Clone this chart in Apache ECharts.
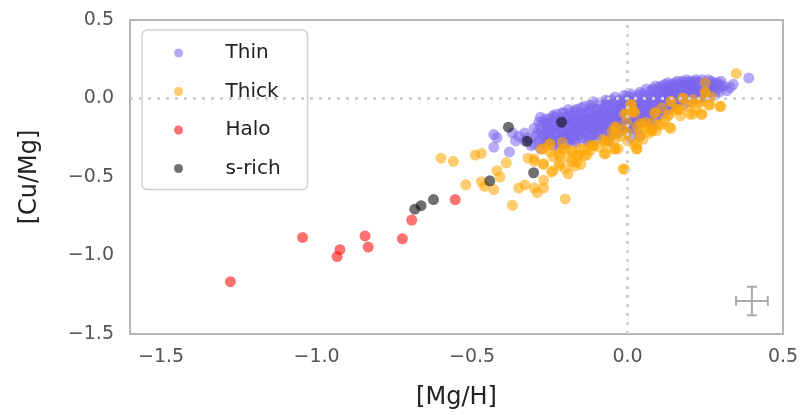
<!DOCTYPE html>
<html><head><meta charset="utf-8">
<script src="https://cdn.jsdelivr.net/npm/echarts@6/dist/echarts.min.js"></script>
<style>html,body{margin:0;padding:0;background:#fff}#c{width:803px;height:415px}</style>
</head><body><div id="c"></div>
<script>
const xTicks = [-1.5, -1.0, -0.5, 0.0, 0.5];
const yTicks = [-1.5, -1.0, -0.5, 0.0, 0.5];
const seriesNames = ['Thin', 'Thick', 'Halo', 's-rich'];

const thin = [
[-0.43,-0.23],[-0.42,-0.25],[-0.43,-0.31],[-0.38,-0.34],[-0.37,-0.22],[-0.35,-0.24],[-0.36,-0.27],[-0.33,-0.27],[-0.33,-0.22],[-0.32,-0.25],
[-0.30,-0.19],[-0.30,-0.29],[-0.28,-0.32],[-0.31,-0.30],[-0.29,-0.22],[-0.28,-0.18],[-0.27,-0.24],[-0.27,-0.28],[-0.26,-0.21],[-0.25,-0.13],
[-0.25,-0.26],[-0.24,-0.18],[-0.24,-0.30],[-0.23,-0.10],[-0.23,-0.22],[-0.22,-0.15],[-0.22,-0.27],[-0.21,-0.19],[-0.21,-0.24],[-0.20,-0.12],
[-0.20,-0.29],[-0.19,-0.17],[-0.19,-0.22],[-0.18,-0.09],[-0.18,-0.26],[-0.17,-0.14],[-0.17,-0.20],[-0.16,-0.11],[-0.16,-0.24],[-0.15,-0.17],
[-0.15,-0.06],[-0.14,-0.21],[-0.14,-0.13],[-0.13,-0.27],[-0.13,-0.09],[-0.12,-0.18],[-0.12,-0.04],[-0.11,-0.23],[-0.11,-0.12],[-0.10,-0.15],
[-0.10,-0.07],[-0.09,-0.19],[-0.09,-0.10],[-0.08,-0.13],[-0.08,-0.24],[-0.07,-0.04],[-0.07,-0.16],[-0.06,-0.09],[-0.06,-0.21],[-0.05,-0.12],
[-0.05,-0.01],[-0.04,-0.17],[-0.04,-0.06],[-0.03,-0.10],[-0.03,-0.22],[-0.02,-0.03],[-0.02,-0.14],[-0.01,-0.08],[-0.01,-0.18],[0.00,-0.11],
[0.00,0.02],[0.01,-0.05],[0.01,-0.15],[0.02,-0.09],[0.02,0.01],[0.03,-0.12],[0.03,-0.03],[0.04,-0.07],[0.04,0.04],[0.05,-0.10],
[0.05,-0.01],[0.06,-0.05],[0.06,-0.14],[0.07,0.02],[0.07,-0.08],[0.08,-0.03],[0.08,0.06],[0.09,-0.06],[0.09,-0.11],[0.10,0.00],
[0.10,0.07],[0.11,-0.04],[0.11,0.04],[0.12,-0.08],[0.12,0.01],[0.13,0.06],[0.13,-0.02],[0.14,0.02],[0.14,0.09],[0.15,-0.05],
[0.15,0.04],[0.16,0.08],[0.16,0.00],[0.17,0.05],[0.18,0.02],[0.18,0.10],[0.19,0.06],[0.19,0.12],[0.20,0.03],[0.20,0.08],
[0.21,0.05],[0.22,0.10],[0.23,0.03],[0.23,0.08],[0.24,0.12],[0.25,0.06],[0.26,0.09],[0.26,0.12],[0.27,0.04],[0.28,0.06],
[0.29,0.10],[0.30,0.08],[0.31,0.08],[0.39,0.13],[0.01,-0.25],[0.04,-0.24],[-0.06,-0.27],[0.08,-0.18],[-0.26,-0.16],[-0.22,-0.20],
[-0.18,-0.15],[-0.14,-0.17],[-0.10,-0.20],[-0.07,-0.11],[-0.03,-0.06],[0.00,-0.15],[0.03,-0.16],[0.06,-0.02],[0.09,0.02],[0.12,0.09],
[0.16,0.11],[0.21,0.10],[-0.25,-0.21],[-0.16,-0.19],[-0.12,-0.13],[-0.05,-0.16],[-0.01,-0.03],[0.02,-0.19],[0.05,-0.05],[0.13,0.03],
[-0.28,-0.12],[-0.27,-0.15],[-0.26,-0.26],[-0.24,-0.11],[-0.23,-0.27],[-0.21,-0.09],[-0.20,-0.22],[-0.19,-0.28],[-0.22,-0.31],
[-0.19,-0.07],[-0.18,-0.20],[-0.17,-0.08],[-0.17,-0.27],[-0.16,-0.15],[-0.15,-0.23],[-0.15,-0.12],[-0.14,-0.05],[-0.13,-0.19],[-0.13,-0.15],
[-0.12,-0.25],[-0.12,-0.08],[-0.11,-0.17],[-0.11,-0.02],[-0.10,-0.26],[-0.10,-0.11],
[-0.09,-0.03],[-0.09,-0.15],[-0.08,-0.07],[-0.08,-0.19],[-0.07,-0.21],[-0.07,-0.01],[-0.06,-0.13],[-0.06,-0.05],[-0.05,-0.23],[-0.05,-0.08],
[-0.04,-0.12],[-0.04,0.01],[-0.03,-0.15],[-0.03,-0.02],[-0.02,-0.19],[-0.02,-0.09],[-0.01,-0.12],[-0.01,0.02],[0.00,-0.07],[0.00,-0.20],
[0.01,-0.11],[0.01,0.03],[0.02,-0.13],[0.02,-0.04],[0.03,-0.08],[0.03,-0.20],[0.04,-0.11],[0.04,-0.02],[0.05,-0.15],[0.05,0.03],
[0.06,-0.09],[0.06,0.06],[0.07,-0.12],[0.07,-0.04],[0.08,-0.08],[0.08,0.01],[0.09,-0.14],[0.09,0.08],[0.10,-0.04],[0.10,-0.09],
[0.11,-0.10],[0.11,0.08],[0.12,-0.03],[0.12,0.05],[0.13,-0.07],[0.13,0.10],[0.14,-0.04],[0.14,0.05],[0.15,0.00],[0.15,0.08],
[0.16,-0.03],[0.16,0.04],[0.17,0.09],[0.17,-0.01],[0.18,0.06],[0.18,-0.04],[0.19,0.01],[0.19,0.09],[0.20,0.11],[0.20,-0.02],
[0.21,0.01],[0.21,0.08],[0.22,0.04],[0.22,0.12],[0.23,0.00],[0.24,0.07],[0.24,0.03],[0.25,0.10],[0.25,0.01],[0.27,0.08],
[0.27,0.11],[0.28,0.02],[0.29,0.06],[0.30,0.11],[0.32,0.05],
[-0.295,-0.24],[-0.285,-0.27],[-0.285,-0.15],[-0.275,-0.21],[-0.265,-0.13],[-0.265,-0.29],[-0.255,-0.18],[-0.255,-0.23],[-0.245,-0.27],[-0.245,-0.15],
[-0.235,-0.20],[-0.235,-0.12],[-0.225,-0.25],[-0.225,-0.17],[-0.215,-0.29],[-0.215,-0.13],[-0.205,-0.20],[-0.205,-0.25],[-0.205,-0.09],
[-0.195,-0.13],[-0.195,-0.25],[-0.185,-0.18],[-0.185,-0.23],[-0.185,-0.11],[-0.175,-0.24],[-0.175,-0.16],[-0.165,-0.21],[-0.165,-0.07],[-0.165,-0.28],
[-0.155,-0.14],[-0.155,-0.19],[-0.145,-0.25],[-0.145,-0.09],[-0.135,-0.12],[-0.135,-0.22],[-0.125,-0.16],[-0.125,-0.28],[-0.115,-0.06],[-0.115,-0.20],
[-0.105,-0.13],[-0.105,-0.23],
[-0.095,-0.07],[-0.095,-0.22],[-0.085,-0.16],[-0.085,-0.11],[-0.075,-0.19],[-0.075,-0.08],[-0.065,-0.15],[-0.065,-0.02],[-0.055,-0.19],[-0.055,-0.10],
[-0.045,-0.14],[-0.045,-0.04],[-0.035,-0.19],[-0.035,-0.08],[-0.025,-0.12],[-0.025,-0.01],[-0.015,-0.16],[-0.015,-0.06],[-0.005,-0.10],[-0.005,-0.01],
[-0.005,-0.17],
[0.005,-0.08],[0.005,-0.01],[0.005,-0.18],[0.015,-0.12],[0.015,-0.02],[0.025,-0.06],[0.025,-0.15],[0.035,-0.10],[0.035,0.02],[0.045,-0.13],
[0.045,-0.04],[0.055,-0.08],[0.055,0.01],[0.065,-0.11],[0.065,-0.02],[0.075,-0.06],[0.075,0.05],[0.085,-0.10],[0.085,-0.01],[0.095,-0.04],
[0.095,0.05],
[0.105,-0.06],[0.105,0.03],[0.115,-0.01],[0.115,0.06],[0.125,-0.05],[0.125,0.03],[0.135,0.08],[0.135,0.00],[0.145,-0.02],[0.145,0.06],
[0.155,0.02],[0.155,0.10],[0.165,-0.01],[0.165,0.06],[0.175,0.03],[0.175,0.11],[0.185,0.00],[0.185,0.08],[0.195,0.04],[0.195,0.10],
[0.205,0.06],[0.215,0.03],[0.215,0.11],[0.225,0.07],[0.235,0.05],[0.235,0.10],[0.245,0.09],[0.255,0.04],[0.265,0.07],[0.275,0.10],
[0.285,0.09],[0.295,0.04],[0.34,0.09],[0.33,0.07]
];

const thick = [
[-0.60,-0.38],[-0.56,-0.40],[-0.52,-0.55],[-0.49,-0.36],[-0.47,-0.35],[-0.47,-0.53],[-0.46,-0.56],[-0.43,-0.58],[-0.42,-0.46],[-0.41,-0.50],
[-0.39,-0.41],[-0.37,-0.68],[-0.35,-0.57],[-0.33,-0.55],[-0.32,-0.38],[-0.30,-0.57],[-0.30,-0.40],[-0.29,-0.60],[-0.27,-0.57],[-0.27,-0.52],
[-0.27,-0.42],[-0.27,-0.32],[-0.25,-0.29],[-0.24,-0.46],[-0.22,-0.35],[-0.22,-0.41],[-0.21,-0.28],[-0.20,-0.45],[-0.20,-0.32],[-0.20,-0.64],
[-0.18,-0.33],[-0.18,-0.40],[-0.17,-0.43],[-0.16,-0.36],[-0.14,-0.32],[-0.11,-0.30],[-0.07,-0.29],[-0.07,-0.35],[-0.06,-0.27],[-0.04,-0.32],
[-0.04,-0.26],[-0.04,-0.18],[-0.03,-0.32],[-0.01,-0.45],[-0.01,-0.10],[-0.015,-0.20],[0.01,-0.09],[0.01,-0.04],[0.02,-0.08],[0.02,-0.29],
[0.03,-0.32],[0.03,-0.18],[0.04,-0.22],[0.04,-0.16],[0.06,-0.15],[0.07,-0.22],[0.08,-0.20],[0.09,-0.09],[0.10,-0.17],[0.13,-0.11],
[0.14,-0.19],[0.14,-0.02],[0.16,-0.07],[0.18,0.00],[0.20,-0.10],[0.21,-0.03],[0.23,-0.03],[0.24,-0.10],[0.25,0.04],[0.25,0.10],
[0.26,-0.04],[0.30,-0.05],[0.35,0.16],[-0.09,-0.31],[-0.12,-0.30],[-0.13,-0.36],[-0.25,-0.34],[-0.15,-0.42],[0.00,-0.27],[0.11,-0.06],
[-0.08,-0.26],[-0.02,-0.24],[0.05,-0.26],[0.00,-0.22],[0.12,-0.14],[0.17,-0.11],[0.22,-0.07],[0.27,0.01],[0.19,-0.05],[0.06,-0.19],
[-0.05,-0.21],[-0.24,-0.37],[-0.19,-0.38],[-0.12,-0.33],
[0.14,-0.017],[0.177,0.003],[0.21,-0.006],[0.237,-0.017],[0.265,-0.04],[0.297,-0.05],[0.25,0.036],[0.21,-0.10],[0.237,-0.10],[0.167,-0.07],
[0.135,-0.10],[0.135,-0.184],[0.087,-0.09],[0.082,-0.153],[0.076,-0.206],[0.05,-0.164],[0.024,-0.09],[-0.003,-0.09],[0.013,-0.038],[-0.003,-0.153],
[-0.035,-0.185],[-0.041,-0.227],[-0.068,-0.27],[-0.041,-0.322],[0.029,-0.29],[0.029,-0.322],[0.093,-0.206],[0.04,-0.24],[0.11,-0.164],[0.157,-0.069],
[-0.11,-0.30],[-0.154,-0.322],[-0.176,-0.343],[-0.208,-0.322],[-0.25,-0.29],[-0.277,-0.322],[-0.218,-0.364],[-0.159,-0.364],[-0.164,-0.406],[-0.218,-0.427],
[-0.191,-0.48],[-0.244,-0.469],[-0.27,-0.416],[-0.30,-0.385],[-0.074,-0.353],[-0.014,-0.448],[-0.138,-0.364]
];

const halo = [
[-1.277,-1.167],[-1.045,-0.885],[-0.925,-0.963],[-0.934,-1.007],[-0.844,-0.875],
[-0.834,-0.946],[-0.724,-0.894],[-0.694,-0.774],[-0.554,-0.644]
];

const sRich = [
[-0.684,-0.705],[-0.664,-0.683],[-0.624,-0.644],[-0.443,-0.524],
[-0.383,-0.183],[-0.323,-0.273],[-0.302,-0.473],[-0.212,-0.151]
];

// typical uncertainty: [x, y, xerr, yerr]
const errBar = [[0.40, -1.29, 0.051, 0.091]];

const colors = ['rgba(123,104,238,0.7)', 'rgba(255,165,0,0.7)', 'rgba(255,0,0,0.7)', 'rgba(0,0,0,0.7)'];
const datasets = [thin, thick, halo, sRich];

const tickFont = {fontFamily: 'DejaVu Sans', fontSize: 19, color: '#555'};

const chart = echarts.init(document.getElementById('c'), null, {renderer: 'canvas'});
const series = datasets.map((d, i) => ({
  name: seriesNames[i], type: 'scatter', data: d, symbolSize: 11, z: 3 + i,
  itemStyle: {color: colors[i]}, emphasis: {disabled: true}, animation: false, large: false
}));
series.push({
  name: 'ref', type: 'scatter', data: [], z: 1, silent: true,
  markLine: {silent: true, symbol: 'none', animation: false, label: {show: false},
    lineStyle: {color: '#cfcfcf', width: 3, type: [3, 6]},
    data: [{xAxis: 0}, {yAxis: 0}]}
});
series.push({
  name: 'err', type: 'custom', data: errBar, z: 2, silent: true, animation: false,
  renderItem: (params, api) => {
    const x = api.value(0), y = api.value(1), ex = api.value(2), ey = api.value(3);
    const c = api.coord([x, y]);
    const l = api.coord([x - ex, y]), r = api.coord([x + ex, y]);
    const t = api.coord([x, y + ey]), b = api.coord([x, y - ey]);
    const st = {stroke: '#aaaaaa', lineWidth: 2};
    const cap = 5;
    return {type: 'group', children: [
      {type: 'line', shape: {x1: l[0], y1: c[1], x2: r[0], y2: c[1]}, style: st},
      {type: 'line', shape: {x1: c[0], y1: t[1], x2: c[0], y2: b[1]}, style: st},
      {type: 'line', shape: {x1: l[0], y1: c[1]-cap, x2: l[0], y2: c[1]+cap}, style: st},
      {type: 'line', shape: {x1: r[0], y1: c[1]-cap, x2: r[0], y2: c[1]+cap}, style: st},
      {type: 'line', shape: {x1: c[0]-cap, y1: t[1], x2: c[0]+cap, y2: t[1]}, style: st},
      {type: 'line', shape: {x1: c[0]-cap, y1: b[1], x2: c[0]+cap, y2: b[1]}, style: st}
    ]};
  }
});

chart.setOption({
  animation: false,
  backgroundColor: '#fff',
  grid: {left: 130, right: 20, top: 20, bottom: 78, show: true, borderColor: '#b5b5b5', borderWidth: 2, backgroundColor: 'transparent'},
  legend: {
    data: seriesNames, orient: 'vertical', left: 142, top: 30,
    icon: 'circle', itemWidth: 60, itemHeight: 9, itemGap: 18.5,
    padding: [13, 27, 11, 32], borderColor: '#d0d0d0', borderWidth: 1.5, borderRadius: 5,
    backgroundColor: 'rgba(255,255,255,0.85)',
    textStyle: {fontFamily: 'DejaVu Sans', fontSize: 20, color: '#222', lineHeight: 20, padding: [0, 0, 0, 12]},
    selectedMode: false
  },
  xAxis: {
    type: 'value', min: -1.6, max: 0.5, interval: 0.1,
    name: '[Mg/H]', nameLocation: 'middle', nameGap: 52,
    nameTextStyle: {fontFamily: 'DejaVu Sans', fontSize: 24, color: '#222'},
    axisLine: {show: false}, axisTick: {show: false}, splitLine: {show: false},
    axisLabel: Object.assign({margin: 14, showMinLabel: true,
      formatter: v => { const r = Math.round(v * 10) / 10; return xTicks.some(t => Math.abs(t - r) < 1e-6) && Math.abs(v - r) < 1e-6 ? (r < 0 ? '\u2212' + Math.abs(r).toFixed(1) : r.toFixed(1)) : ''; }}, tickFont)
  },
  yAxis: {
    type: 'value', min: -1.5, max: 0.5, interval: 0.5,
    name: '[Cu/Mg]', nameLocation: 'middle', nameGap: 88, nameRotate: 90,
    nameTextStyle: {fontFamily: 'DejaVu Sans', fontSize: 24, color: '#222'},
    axisLine: {show: false}, axisTick: {show: false}, splitLine: {show: false},
    axisLabel: Object.assign({margin: 16,
      formatter: v => yTicks.some(t => Math.abs(t - v) < 1e-6) ? (v < 0 ? '\u2212' + Math.abs(v).toFixed(1) : v.toFixed(1)) : ''}, tickFont)
  },
  series: series
});
</script></body></html>
